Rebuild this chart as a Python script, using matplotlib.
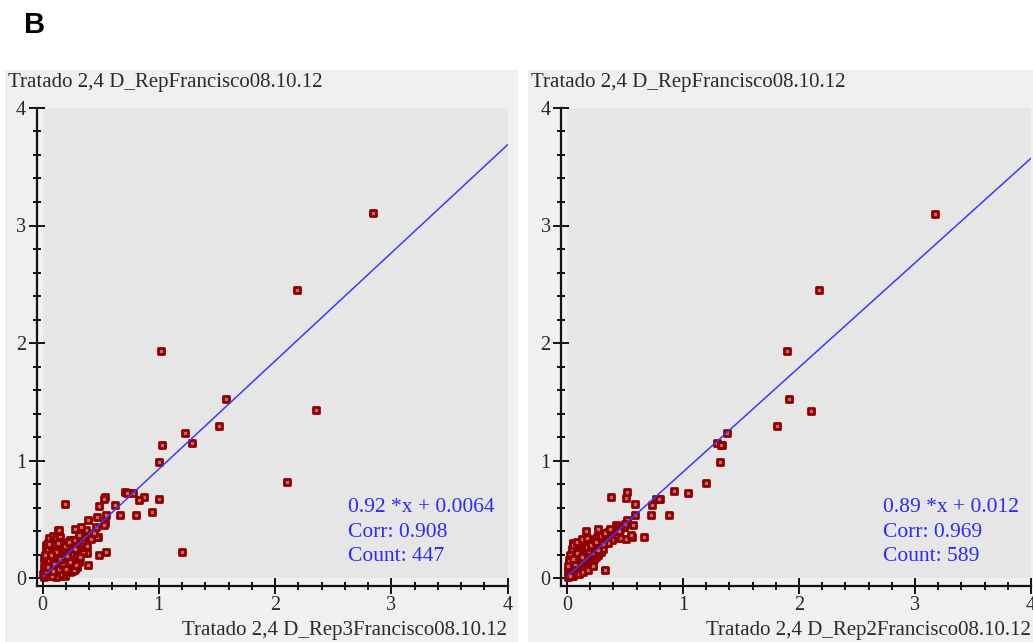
import matplotlib
matplotlib.use("Agg")
import matplotlib.pyplot as plt

W, H = 1033, 642

# left panel: Rep3 vs Rep (outliers first, then the dense cluster)
left_x = [
    2.84, 2.19, 1.02, 1.58, 2.35, 1.52, 1.23, 1.29, 1.03, 1.005, 2.10, 1.20,
    1.005, 0.945, 0.87, 0.83, 0.78, 0.71, 0.73, 0.80, 0.67, 0.62, 0.55, 0.54,
    0.53, 0.49, 0.47, 0.19, 0.39, 0.54, 0.53, 0.46, 0.37, 0.33, 0.28, 0.13,
    0.48, 0.47, 0.55, 0.49, 0.39, 0.38, 0.33, 0.24, 0.05, 0.19, 0.14,
    0.01, 0.02, 0.03, 0.04, 0.05, 0.02, 0.03, 0.06, 0.07, 0.08,
    0.04, 0.05, 0.09, 0.10, 0.11, 0.06, 0.08, 0.12, 0.13, 0.14,
    0.03, 0.05, 0.07, 0.09, 0.11, 0.15, 0.16, 0.17, 0.10, 0.12,
    0.18, 0.19, 0.20, 0.14, 0.16, 0.21, 0.22, 0.23, 0.18, 0.20,
    0.24, 0.25, 0.26, 0.22, 0.27, 0.28, 0.29, 0.30, 0.02, 0.04,
    0.06, 0.08, 0.10, 0.12, 0.14, 0.16, 0.18, 0.20, 0.22, 0.24,
    0.26, 0.28, 0.01, 0.03, 0.05, 0.07, 0.09, 0.11, 0.13, 0.15,
    0.17, 0.19, 0.21, 0.23, 0.25, 0.06, 0.09, 0.12, 0.15, 0.18,
    0.21, 0.24, 0.27, 0.33, 0.35, 0.31, 0.34, 0.36, 0.38, 0.40,
    0.42, 0.44, 0.17, 0.12, 0.24, 0.30,
    0.00, 0.01, 0.02, 0.03, 0.04, 0.05, 0.06, 0.07, 0.08, 0.09,
    0.10, 0.11, 0.12, 0.13, 0.14, 0.15, 0.16, 0.17, 0.18, 0.19,
    0.20, 0.21, 0.22, 0.23, 0.24, 0.25, 0.26, 0.27, 0.28, 0.29,
    0.02, 0.04, 0.06, 0.08, 0.10, 0.12, 0.14, 0.16, 0.18, 0.20,
    0.22, 0.24, 0.26, 0.28, 0.30, 0.03, 0.07, 0.11, 0.15, 0.19,
    0.23, 0.27, 0.31, 0.35, 0.05, 0.13, 0.21, 0.29, 0.32, 0.09,
]
left_y = [
    3.11, 2.45, 1.93, 1.52, 1.43, 1.29, 1.23, 1.15, 1.13, 0.99, 0.82, 0.22,
    0.67, 0.56, 0.69, 0.66, 0.72, 0.73, 0.72, 0.54, 0.54, 0.62, 0.54, 0.69,
    0.67, 0.61, 0.52, 0.63, 0.49, 0.47, 0.45, 0.43, 0.41, 0.43, 0.42, 0.41,
    0.35, 0.35, 0.22, 0.20, 0.11, 0.21, 0.31, 0.32, 0.27, 0.02, 0.41,
    0.01, 0.04, 0.02, 0.08, 0.05, 0.12, 0.18, 0.03, 0.10, 0.06,
    0.22, 0.15, 0.02, 0.09, 0.04, 0.25, 0.20, 0.12, 0.07, 0.02,
    0.28, 0.30, 0.16, 0.27, 0.22, 0.10, 0.05, 0.14, 0.31, 0.26,
    0.08, 0.17, 0.12, 0.29, 0.21, 0.06, 0.19, 0.15, 0.26, 0.24,
    0.10, 0.22, 0.18, 0.28, 0.25, 0.14, 0.23, 0.29, 0.07, 0.14,
    0.10, 0.13, 0.16, 0.18, 0.15, 0.12, 0.20, 0.17, 0.11, 0.21,
    0.12, 0.20, 0.16, 0.10, 0.20, 0.24, 0.13, 0.08, 0.20, 0.26,
    0.22, 0.03, 0.25, 0.08, 0.30, 0.34, 0.36, 0.33, 0.35, 0.31,
    0.30, 0.27, 0.32, 0.28, 0.34, 0.37, 0.24, 0.30, 0.27, 0.36,
    0.33, 0.38, 0.03, 0.01, 0.05, 0.09,
    0.03, 0.09, 0.17, 0.25, 0.11, 0.24, 0.15, 0.05, 0.27, 0.18,
    0.21, 0.14, 0.05, 0.25, 0.19, 0.31, 0.18, 0.09, 0.14, 0.24,
    0.05, 0.15, 0.24, 0.21, 0.16, 0.06, 0.27, 0.12, 0.08, 0.17,
    0.20, 0.04, 0.29, 0.02, 0.12, 0.22, 0.08, 0.28, 0.11, 0.08,
    0.26, 0.14, 0.21, 0.25, 0.19, 0.06, 0.20, 0.28, 0.16, 0.27,
    0.31, 0.07, 0.14, 0.21, 0.09, 0.30, 0.19, 0.11, 0.18, 0.06,
]

# right panel: Rep2 vs Rep
right_x = [
    3.17, 2.17, 1.90, 1.91, 2.10, 1.81, 1.38, 1.29, 1.34, 1.32, 1.33, 1.20,
    1.04, 0.92, 0.80, 0.77, 0.79, 0.73, 0.72, 0.88, 0.52, 0.51, 0.38, 0.59,
    0.59, 0.52, 0.57, 0.47, 0.49, 0.42, 0.27, 0.16, 0.66, 0.51, 0.56, 0.46,
    0.55, 0.05, 0.33,
    0.01, 0.02, 0.03, 0.04, 0.05, 0.06, 0.07, 0.08, 0.09, 0.10,
    0.11, 0.12, 0.13, 0.14, 0.15, 0.16, 0.17, 0.18, 0.19, 0.20,
    0.21, 0.22, 0.23, 0.24, 0.25, 0.26, 0.27, 0.28, 0.29, 0.30,
    0.31, 0.32, 0.33, 0.34, 0.35, 0.36, 0.37, 0.38, 0.40, 0.42,
    0.02, 0.03, 0.04, 0.05, 0.06, 0.07, 0.08, 0.09, 0.10, 0.11,
    0.12, 0.13, 0.14, 0.15, 0.16, 0.18, 0.20, 0.22, 0.24, 0.26,
    0.05, 0.07, 0.09, 0.11, 0.13, 0.15, 0.17, 0.19, 0.21, 0.23,
    0.25, 0.27, 0.29, 0.31, 0.01, 0.02, 0.03, 0.04, 0.08, 0.12,
    0.16, 0.19, 0.10, 0.14, 0.18, 0.22, 0.05, 0.09, 0.13, 0.17,
    0.44, 0.46, 0.48, 0.41, 0.39, 0.43, 0.35, 0.28,
    0.02, 0.04, 0.06, 0.08, 0.10, 0.12, 0.14, 0.16, 0.18, 0.20,
    0.22, 0.24, 0.26, 0.28, 0.30, 0.32, 0.34, 0.36, 0.38, 0.03,
    0.07, 0.11, 0.15, 0.19, 0.23, 0.27, 0.31, 0.35, 0.01, 0.05,
    0.09, 0.13, 0.17, 0.21, 0.25, 0.29, 0.33, 0.37, 0.45, 0.50,
]
right_y = [
    3.10, 2.45, 1.93, 1.52, 1.42, 1.29, 1.23, 1.15, 1.13, 0.99, 1.13, 0.81,
    0.72, 0.74, 0.67, 0.67, 0.67, 0.62, 0.54, 0.54, 0.73, 0.68, 0.69, 0.63,
    0.54, 0.49, 0.45, 0.43, 0.43, 0.45, 0.42, 0.40, 0.35, 0.33, 0.35, 0.34,
    0.37, 0.30, 0.07,
    0.01, 0.03, 0.05, 0.02, 0.07, 0.04, 0.09, 0.06, 0.11, 0.08,
    0.13, 0.10, 0.15, 0.12, 0.17, 0.14, 0.19, 0.16, 0.21, 0.18,
    0.23, 0.20, 0.25, 0.22, 0.27, 0.24, 0.29, 0.26, 0.31, 0.28,
    0.33, 0.30, 0.35, 0.32, 0.36, 0.34, 0.38, 0.35, 0.39, 0.41,
    0.10, 0.14, 0.18, 0.12, 0.20, 0.16, 0.22, 0.18, 0.24, 0.20,
    0.27, 0.23, 0.29, 0.25, 0.31, 0.28, 0.30, 0.32, 0.33, 0.35,
    0.02, 0.03, 0.05, 0.06, 0.08, 0.09, 0.11, 0.12, 0.14, 0.16,
    0.18, 0.20, 0.22, 0.25, 0.06, 0.15, 0.20, 0.25, 0.14, 0.19,
    0.23, 0.26, 0.03, 0.05, 0.07, 0.10, 0.28, 0.31, 0.33, 0.34,
    0.44, 0.42, 0.43, 0.37, 0.32, 0.40, 0.30, 0.34,
    0.06, 0.08, 0.12, 0.10, 0.14, 0.15, 0.18, 0.19, 0.22, 0.23,
    0.26, 0.27, 0.30, 0.31, 0.33, 0.35, 0.37, 0.39, 0.40, 0.02,
    0.12, 0.16, 0.20, 0.23, 0.21, 0.24, 0.29, 0.39, 0.10, 0.16,
    0.21, 0.18, 0.26, 0.28, 0.31, 0.36, 0.38, 0.42, 0.40, 0.46,
]

panels = [
    {
        "x": left_x, "y": left_y, "slope": 0.92, "icpt": 0.0064,
        "fit": "0.92 *x + 0.0064", "corr": "Corr: 0.908", "count": "Count: 447",
        "ylabel": "Tratado 2,4 D_RepFrancisco08.10.12",
        "xlabel": "Tratado 2,4 D_Rep3Francisco08.10.12",
        "bg": (5, 518), "ax_x": 42.5, "ax_w": 465, "txt_x": 2.63,
    },
    {
        "x": right_x, "y": right_y, "slope": 0.89, "icpt": 0.012,
        "fit": "0.89 *x + 0.012", "corr": "Corr: 0.969", "count": "Count: 589",
        "ylabel": "Tratado 2,4 D_RepFrancisco08.10.12",
        "xlabel": "Tratado 2,4 D_Rep2Francisco08.10.12",
        "bg": (528, 1033), "ax_x": 567, "ax_w": 464, "txt_x": 2.72,
    },
]

SERIF = "Liberation Serif"
TXT_COLOR = "#2a2a2a"

fig = plt.figure(figsize=(W / 100, H / 100), dpi=100)
fig.patch.set_facecolor("white")

fig.text(35 / W, 1 - 25 / H, "B", fontsize=21, fontweight="bold",
         family="Liberation Sans", ha="center", va="center")

for p in panels:
    x0, x1 = p["bg"]
    # light panel behind each chart
    bg = fig.add_axes([x0 / W, 0, (x1 - x0) / W, 1 - 70 / H], zorder=-5)
    bg.set_facecolor("#f0f0f0")
    bg.set_xticks([])
    bg.set_yticks([])
    for s in bg.spines.values():
        s.set_visible(False)

    ax = fig.add_axes([p["ax_x"] / W, 64 / H, p["ax_w"] / W, 470 / H])
    ax.set_facecolor("#e6e6e6")
    ax.set_xlim(0, 4)
    ax.set_ylim(0, 4)

    ax.plot([0, 4], [p["icpt"], p["slope"] * 4 + p["icpt"]],
            color="#3a3aff", lw=1.1, zorder=4)
    ax.scatter(p["x"], p["y"], marker="s", s=24, facecolor="#c06a6a",
               edgecolor="#900000", linewidths=2.0, zorder=3, clip_on=False)

    for i, t in enumerate([p["fit"], p["corr"], p["count"]]):
        ax.text(p["txt_x"], 0.60 - i * 0.21, t, color="#2a2aff", fontsize=15.5,
                family=SERIF, ha="left", va="center")

    for side in ["top", "right"]:
        ax.spines[side].set_visible(False)
    ax.spines["left"].set_position(("outward", 4.3))
    ax.spines["bottom"].set_position(("outward", 5.8))
    ax.spines["left"].set_bounds(-0.07, 4)
    ax.spines["bottom"].set_bounds(-0.05, 4)
    for side in ["left", "bottom"]:
        ax.spines[side].set_linewidth(1.6)
        ax.spines[side].set_color("#111111")

    ax.set_xticks([0, 1, 2, 3, 4])
    ax.set_yticks([0, 1, 2, 3, 4])
    ax.set_xticks([i * 0.2 for i in range(21)], minor=True)
    ax.set_yticks([i * 0.2 for i in range(21)], minor=True)
    ax.tick_params(which="major", direction="inout", length=11, width=1.4,
                   color="#111111", labelsize=14.5, labelcolor=TXT_COLOR, pad=2)
    ax.tick_params(which="minor", direction="inout", length=6, width=1.4,
                   color="#111111")
    for lab in ax.get_xticklabels() + ax.get_yticklabels():
        lab.set_family(SERIF)

    fig.text((x0 + 3) / W, 1 - 83 / H, p["ylabel"], fontsize=15, family=SERIF,
             color=TXT_COLOR, ha="left", va="center")
    fig.text((p["ax_x"] + p["ax_w"]) / W, 1 - 631 / H, p["xlabel"], fontsize=15,
             family=SERIF, color=TXT_COLOR, ha="right", va="center")

fig.savefig("out.png", dpi=100)
